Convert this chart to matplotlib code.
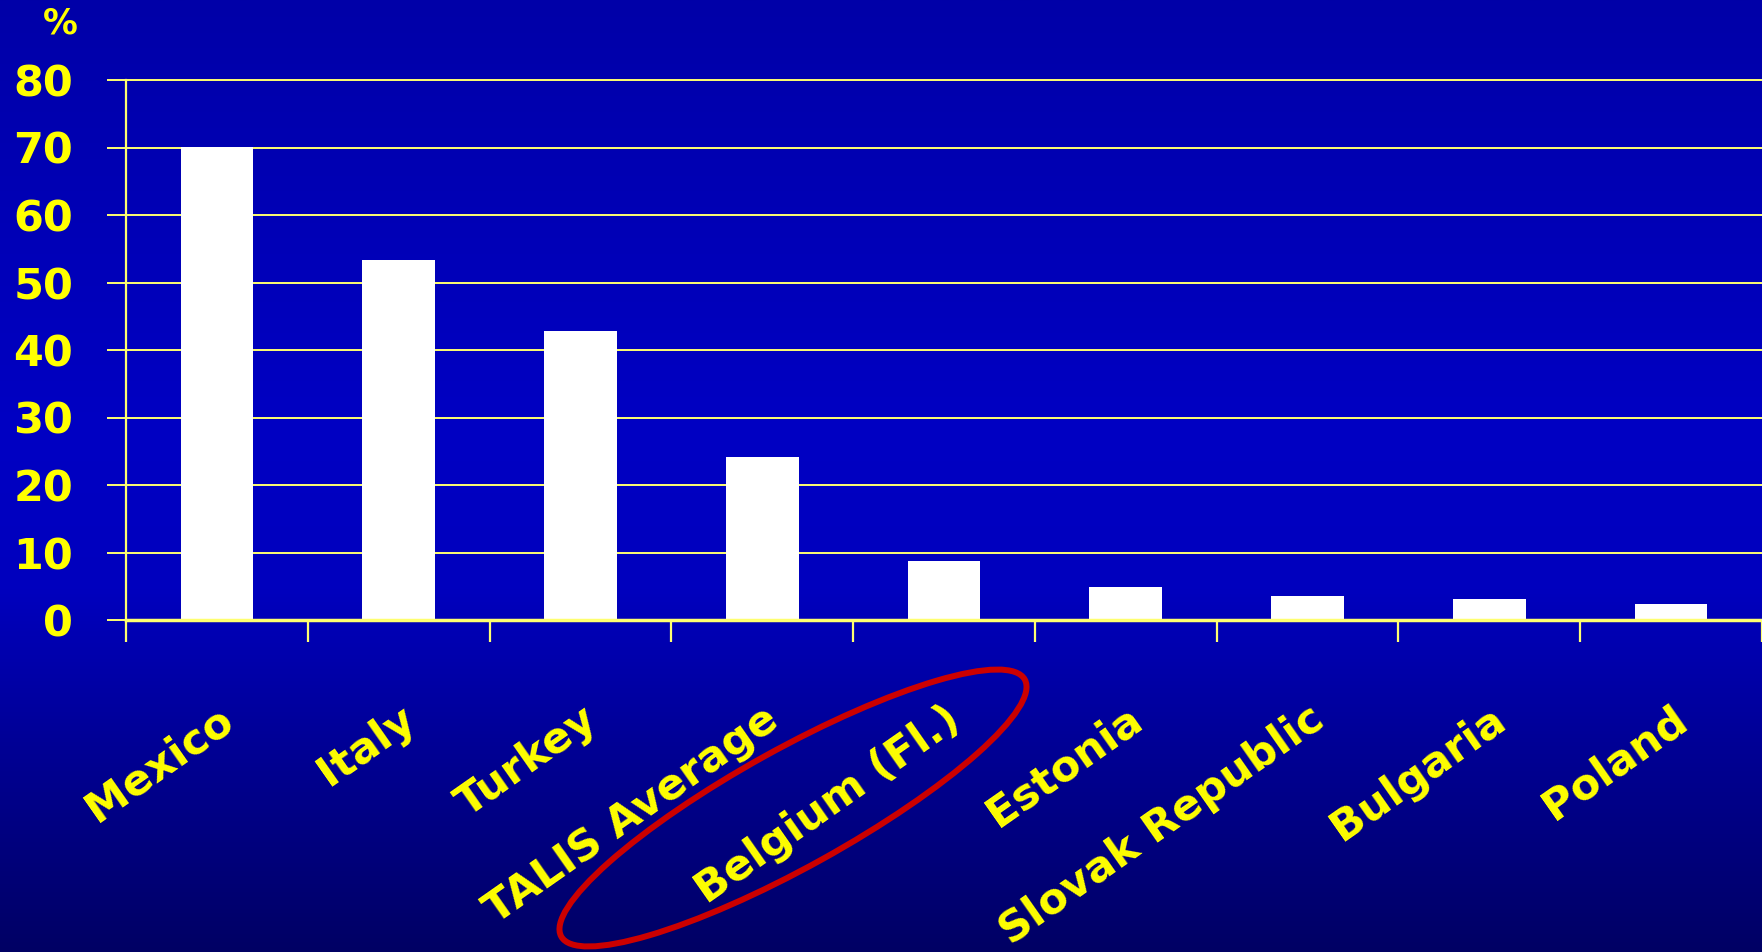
"""Bar chart: share of teachers (%) by country, TALIS style slide."""

import numpy as np
import matplotlib
matplotlib.use("Agg")
import matplotlib.pyplot as plt
from matplotlib.patches import Ellipse
from matplotlib.transforms import IdentityTransform

countries = ["Mexico", "Italy", "Turkey", "TALIS Average", "Belgium (Fl.)",
             "Estonia", "Slovak Republic", "Bulgaria", "Poland"]
values = [70.1, 53.3, 42.8, 24.1, 8.7, 4.9, 3.5, 3.1, 2.4]
y_ticks = [0, 10, 20, 30, 40, 50, 60, 70, 80]

W, H, DPI = 1762, 952, 100
YELLOW = "#ffff00"
GRID = "#ffff70"

plt.rcParams["font.family"] = ["DejaVu Sans"]
fig = plt.figure(figsize=(W / DPI, H / DPI), dpi=DPI)

# fond dégradé bleu
bg = fig.add_axes([0, 0, 1, 1], zorder=0)
rows = np.linspace(0, 1, 400)
blue = np.interp(rows, [0.0, 0.45, 0.62, 0.78, 1.0], [168, 195, 190, 150, 100]) / 255
grad = np.zeros((400, 1, 3))
grad[:, 0, 2] = blue
bg.imshow(grad, aspect="auto", extent=[0, 1, 0, 1])
bg.axis("off")

ax = fig.add_axes([126 / W, 332 / H, 1 - 126 / W, 540 / H], zorder=1)
ax.set_facecolor("none")

x = np.arange(len(countries))
ax.bar(x, values, width=0.4, color="white", zorder=2)

ax.set_xlim(-0.5, len(countries) - 0.5)
ax.set_ylim(0, 80)
ax.set_yticks(y_ticks)
ax.set_yticklabels([str(v) for v in y_ticks])
ax.yaxis.grid(True, color=GRID, linewidth=1.4)
for gl in ax.get_ygridlines():
    gl.set_clip_on(False)
ax.set_axisbelow(True)

# ticks aux bornes des catégories, étiquettes au centre
ax.set_xticks(np.arange(len(countries) + 1) - 0.5)
ax.set_xticklabels([])
ax.set_xticks(x, countries, minor=True, rotation=35, ha="right",
              rotation_mode="anchor")
ax.tick_params(axis="x", which="major", length=16, width=1.6, color=GRID,
               direction="out")
ax.tick_params(axis="x", which="minor", length=0, pad=56,
               labelsize=31, labelcolor=YELLOW)
for lab in ax.get_xticklabels(minor=True):
    lab.set_fontweight("bold")
ax.tick_params(axis="y", length=14, width=1.4, color=GRID, pad=24,
               labelsize=31, labelcolor=YELLOW)
for lab in ax.get_yticklabels():
    lab.set_fontweight("bold")

for side in ["top", "right"]:
    ax.spines[side].set_visible(False)
ax.spines["left"].set_color(GRID)
ax.spines["left"].set_linewidth(1.6)
ax.spines["bottom"].set_color(GRID)
ax.spines["bottom"].set_linewidth(2.5)

fig.text(60 / W, 1 - 24 / H, "%", color=YELLOW, fontsize=25,
         fontweight="bold", ha="center", va="center")

# cercle rouge autour de Belgium (Fl.)
fig.add_artist(Ellipse((793, H - 808), 530, 118, angle=29, fill=False,
                       edgecolor="#cc0000", linewidth=4.3,
                       transform=IdentityTransform(), zorder=5))

fig.savefig("out.png", dpi=DPI)
